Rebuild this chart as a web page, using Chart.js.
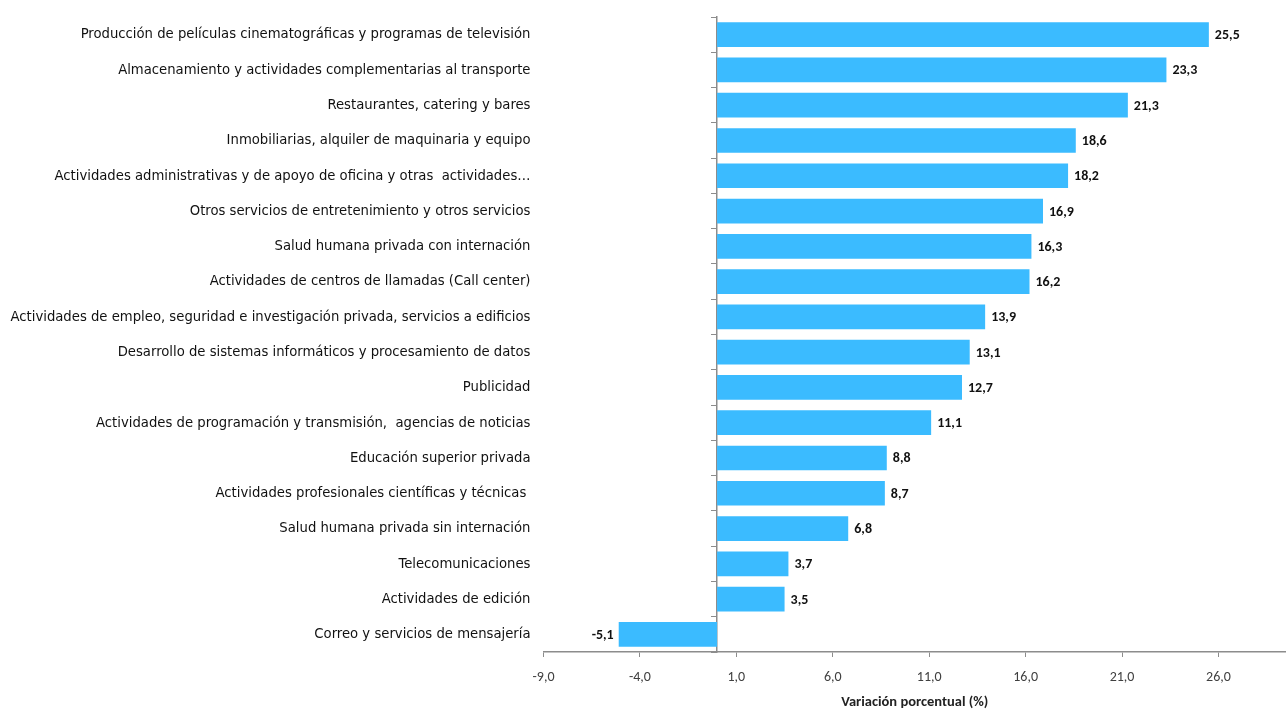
<!DOCTYPE html>
<html>
<head>
<meta charset="utf-8">
<script src="https://cdn.jsdelivr.net/npm/chart.js@4/dist/chart.umd.min.js"></script>
<style>
  html, body { margin: 0; padding: 0; background: #fff; }
  #wrap { width: 1286px; height: 711px; }
</style>
</head>
<body>
<div id="wrap"><canvas id="chart"></canvas></div>
<script>
// categories, top to bottom
const categories = [
  "Producción de películas cinematográficas y programas de televisión",
  "Almacenamiento y actividades complementarias al transporte",
  "Restaurantes, catering y bares",
  "Inmobiliarias, alquiler de maquinaria y equipo",
  "Actividades administrativas y de apoyo de oficina y otras  actividades…",
  "Otros servicios de entretenimiento y otros servicios",
  "Salud humana privada con internación",
  "Actividades de centros de llamadas (Call center)",
  "Actividades de empleo, seguridad e investigación privada, servicios a edificios",
  "Desarrollo de sistemas informáticos y procesamiento de datos",
  "Publicidad",
  "Actividades de programación y transmisión,  agencias de noticias",
  "Educación superior privada",
  "Actividades profesionales científicas y técnicas ",
  "Salud humana privada sin internación",
  "Telecomunicaciones",
  "Actividades de edición",
  "Correo y servicios de mensajería"
];

const variation = [25.5, 23.3, 21.3, 18.6, 18.2, 16.9, 16.3, 16.2, 13.9, 13.1, 12.7, 11.1, 8.8, 8.7, 6.8, 3.7, 3.5, -5.1];

const xTicks = [-9, -4, 1, 6, 11, 16, 21, 26];

const AXIS_TITLE = "Variación porcentual (%)";
const BAR_COLOR = "#3bbbff";
const AXIS_COLOR = "#8c8c8c";
const NARROW = '"Liberation Sans Narrow", "Arial Narrow", "DejaVu Sans Condensed", sans-serif';
const TICK_FONT = 'Carlito, Calibri, Lato, sans-serif';

function fmt(v) {
  return v.toFixed(1).replace(".", ",");
}

// value labels at the end of each bar
const valueLabels = {
  id: "valueLabels",
  afterDatasetsDraw(chart) {
    const ctx = chart.ctx;
    const meta = chart.getDatasetMeta(0);
    ctx.save();
    ctx.font = "bold 14px " + TICK_FONT;
    ctx.fillStyle = "#111";
    ctx.textBaseline = "middle";
    meta.data.forEach((bar, i) => {
      const v = variation[i];
      if (v >= 0) {
        ctx.textAlign = "left";
        ctx.fillText(fmt(v), bar.x + 6, bar.y + 1);
      } else {
        ctx.textAlign = "right";
        ctx.fillText(fmt(v), bar.x - 5, bar.y + 1);
      }
    });
    ctx.restore();
  }
};

new Chart(document.getElementById("chart"), {
  type: "bar",
  data: {
    labels: categories,
    datasets: [{
      data: variation,
      backgroundColor: BAR_COLOR,
      borderWidth: 0,
      categoryPercentage: 1,
      barPercentage: 0.7
    }]
  },
  options: {
    indexAxis: "y",
    responsive: true,
    maintainAspectRatio: false,
    animation: false,
    layout: { padding: { top: 17, right: 0, left: 0, bottom: 0 } },
    plugins: {
      legend: { display: false },
      tooltip: { enabled: false }
    },
    scales: {
      x: {
        type: "linear",
        min: -9,
        max: 29.5,
        afterBuildTicks: (scale) => {
          scale.ticks = xTicks.map(v => ({ value: v }));
        },
        afterFit: (scale) => { scale.height = 59; },
        grid: { drawOnChartArea: false, drawTicks: true, tickLength: 5, color: AXIS_COLOR },
        border: { display: true, color: AXIS_COLOR, width: 1.5 },
        ticks: {
          padding: 12,
          color: "#404040",
          font: { family: TICK_FONT, size: 14 },
          callback: (v) => fmt(v)
        },
        title: {
          display: true,
          text: AXIS_TITLE,
          color: "#222",
          font: { family: TICK_FONT, size: 14.5, weight: "bold" },
          padding: { top: 0, bottom: 0 }
        }
      },
      y: {
        type: "category",
        afterFit: (scale) => {
          scale.width = 543.5;
          scale.paddingTop = 0;
          scale.paddingBottom = 0;
        },
        grid: { display: false, drawTicks: false },
        border: { display: false },
        ticks: {
          padding: 13,
          color: "#111",
          font: { family: NARROW, size: 14.7 }
        }
      },
      y0: {
        type: "category",
        axis: "y",
        position: { x: 0 },
        offset: true,
        grid: { offset: true, drawOnChartArea: false, drawTicks: true, tickLength: 5, color: AXIS_COLOR },
        border: { display: true, color: AXIS_COLOR, width: 1.5 },
        ticks: { display: false }
      }
    }
  },
  plugins: [valueLabels]
});
</script>
</body>
</html>
